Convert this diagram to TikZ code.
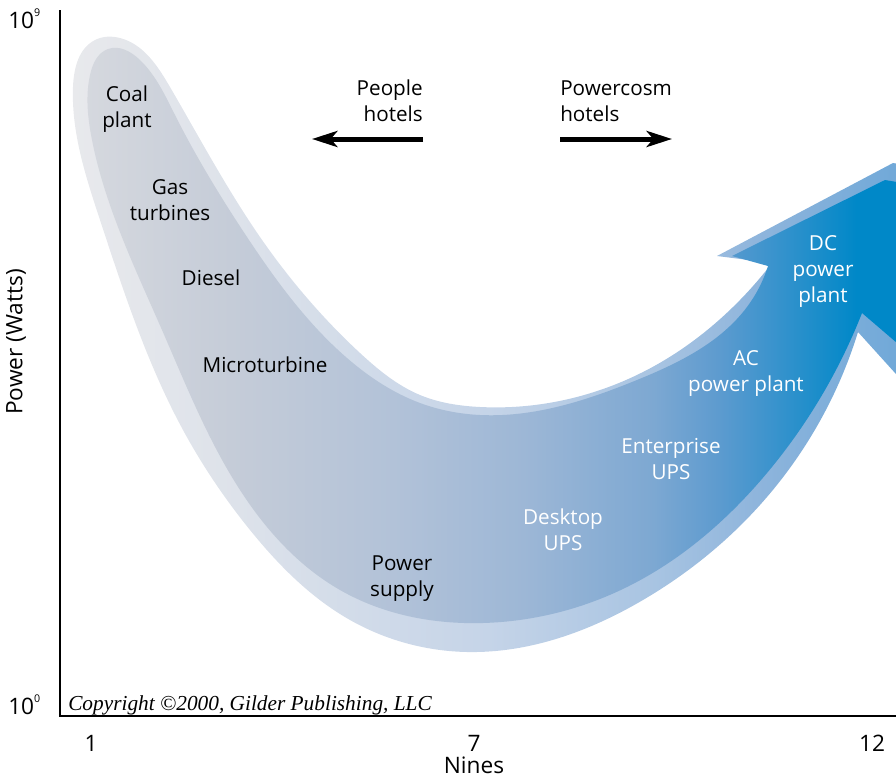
\documentclass[tikz,border=0pt]{standalone}
\usepackage{fontspec}
\setmainfont{Open Sans}
\newfontfamily\copyfont{Liberation Serif}
\usetikzlibrary{arrows.meta,hobby}

\definecolor{haloA}{HTML}{E8E9EC}
\definecolor{haloB}{HTML}{DDE2EA}
\definecolor{haloC}{HTML}{C5D4E8}
\definecolor{haloD}{HTML}{A8C4E2}
\definecolor{haloE}{HTML}{8FB5DC}
\definecolor{haloF}{HTML}{6FA8D8}
\definecolor{bandA}{HTML}{D5D8DE}
\definecolor{bandB}{HTML}{C5CCD8}
\definecolor{bandC}{HTML}{B2C2D8}
\definecolor{bandD}{HTML}{9DB7D6}
\definecolor{bandE}{HTML}{7DA8D2}
\definecolor{bandF}{HTML}{5D9BCF}
\definecolor{bandG}{HTML}{3E94CD}
\definecolor{bandH}{HTML}{0088C8}
\pgfdeclarehorizontalshading{halo}{100bp}{color(0bp)=(haloA); color(25bp)=(haloA); color(35bp)=(haloB); color(50bp)=(haloC); color(60bp)=(haloD); color(66bp)=(haloE); color(75bp)=(haloF); color(100bp)=(haloF)}
\pgfdeclarehorizontalshading{band}{100bp}{color(0bp)=(bandA); color(25bp)=(bandA); color(34bp)=(bandB); color(44bp)=(bandC); color(52bp)=(bandD); color(60bp)=(bandE); color(64bp)=(bandF); color(67bp)=(bandG); color(72.5bp)=(bandH); color(100bp)=(bandH)}
\newcommand\expo[1]{\raisebox{0.5em}{\fontsize{8}{8}\selectfont#1}}

\begin{document}
\begin{tikzpicture}[x=0.75pt,y=-0.75pt,>={Stealth[length=19pt,width=12pt,inset=5pt]},
  lbl/.style={font=\fontsize{15.5}{19.5}\selectfont,align=center,inner sep=0pt},
  lblw/.style={lbl,text=white},
  tick/.style={font=\fontsize{17}{20}\selectfont,inner sep=0pt}]
\useasboundingbox (0,0) rectangle (896,778);
\begin{scope}[use Hobby shortcut]
\clip (0,0) rectangle (896,778);
\shade[shading=halo] (717,256) -- (893,163) -- (905,165) -- (905,384) -- (858,332)
  .. (767,497) .. (643,600) .. (467,652) .. (350,620) .. (250,530) .. (183,430) .. (100,220)
  .. (73,87) .. (95,40) .. (120,38) .. (170,87) .. (260,237) .. (360,353) .. (420,395)
  .. (480,407) .. (643,372) .. (740,300) .. (772,263) -- cycle;
\shade[shading=band] (732,256) -- (885,180) -- (897,182) -- (897,343) -- (862,313)
  .. (767,473) .. (627,587) .. (483,623) .. (340,590) .. (240,490) .. (162,330) .. (92,140)
  .. (90,75) .. (108,49) .. (140,60) .. (175,115) .. (247,237) .. (347,358) .. (420,403)
  .. (480,415) .. (637,380) .. (747,307) .. (768,266) -- cycle;
\end{scope}

\draw[line width=1.5pt] (60,10) -- (60,716) -- (900,716);
\node[tick,anchor=base west] (top) at (8,28) {10\expo{9}};
\node[tick,anchor=base west] (bot) at (8,714) {10\expo{0}};
\node[tick,rotate=90] (yl) at (16,342) {Power (Watts)};
\node[tick,anchor=base] (one) at (91,751) {1};
\node[tick,anchor=base] (seven) at (474,751) {7};
\node[tick,anchor=base] (twelve) at (872,751) {12};
\node[tick,anchor=base] (xl) at (474,773) {Nines};
\node[anchor=base west,inner sep=0pt,font=\copyfont\itshape\fontsize{16}{18}\selectfont] (copy) at (68,710)
  {Copyright \textcopyright2000, Gilder Publishing, LLC};

\node[lbl] (coal) at (127,109) {Coal\\plant};
\node[lbl] (gas) at (170,200) {Gas\\turbines};
\node[lbl] (diesel) at (211,278) {Diesel};
\node[lbl] (micro) at (265,365) {Microturbine};
\node[lbl] (psu) at (402,579) {Power\\supply};
\node[lblw] (desk) at (563,530) {Desktop\\UPS};
\node[lblw] (ent) at (671,459) {Enterprise\\UPS};
\node[lblw] (ac) at (746,373) {AC\\power plant};
\node[lblw] (dc) at (823,271) {DC\\power\\plant};

\node[lbl,anchor=east,align=right] (people) at (423,101) {People\\hotels};
\node[lbl,anchor=west,align=left] (pcosm) at (560,101) {Powercosm\\hotels};
\coordinate (pa) at (423,139);
\coordinate (pb) at (312,139);
\coordinate (ca) at (560,139);
\coordinate (cb) at (672,139);
\draw[->,line width=3.75pt] (pa) -- (pb);
\draw[->,line width=3.75pt] (ca) -- (cb);
\end{tikzpicture}
\end{document}
